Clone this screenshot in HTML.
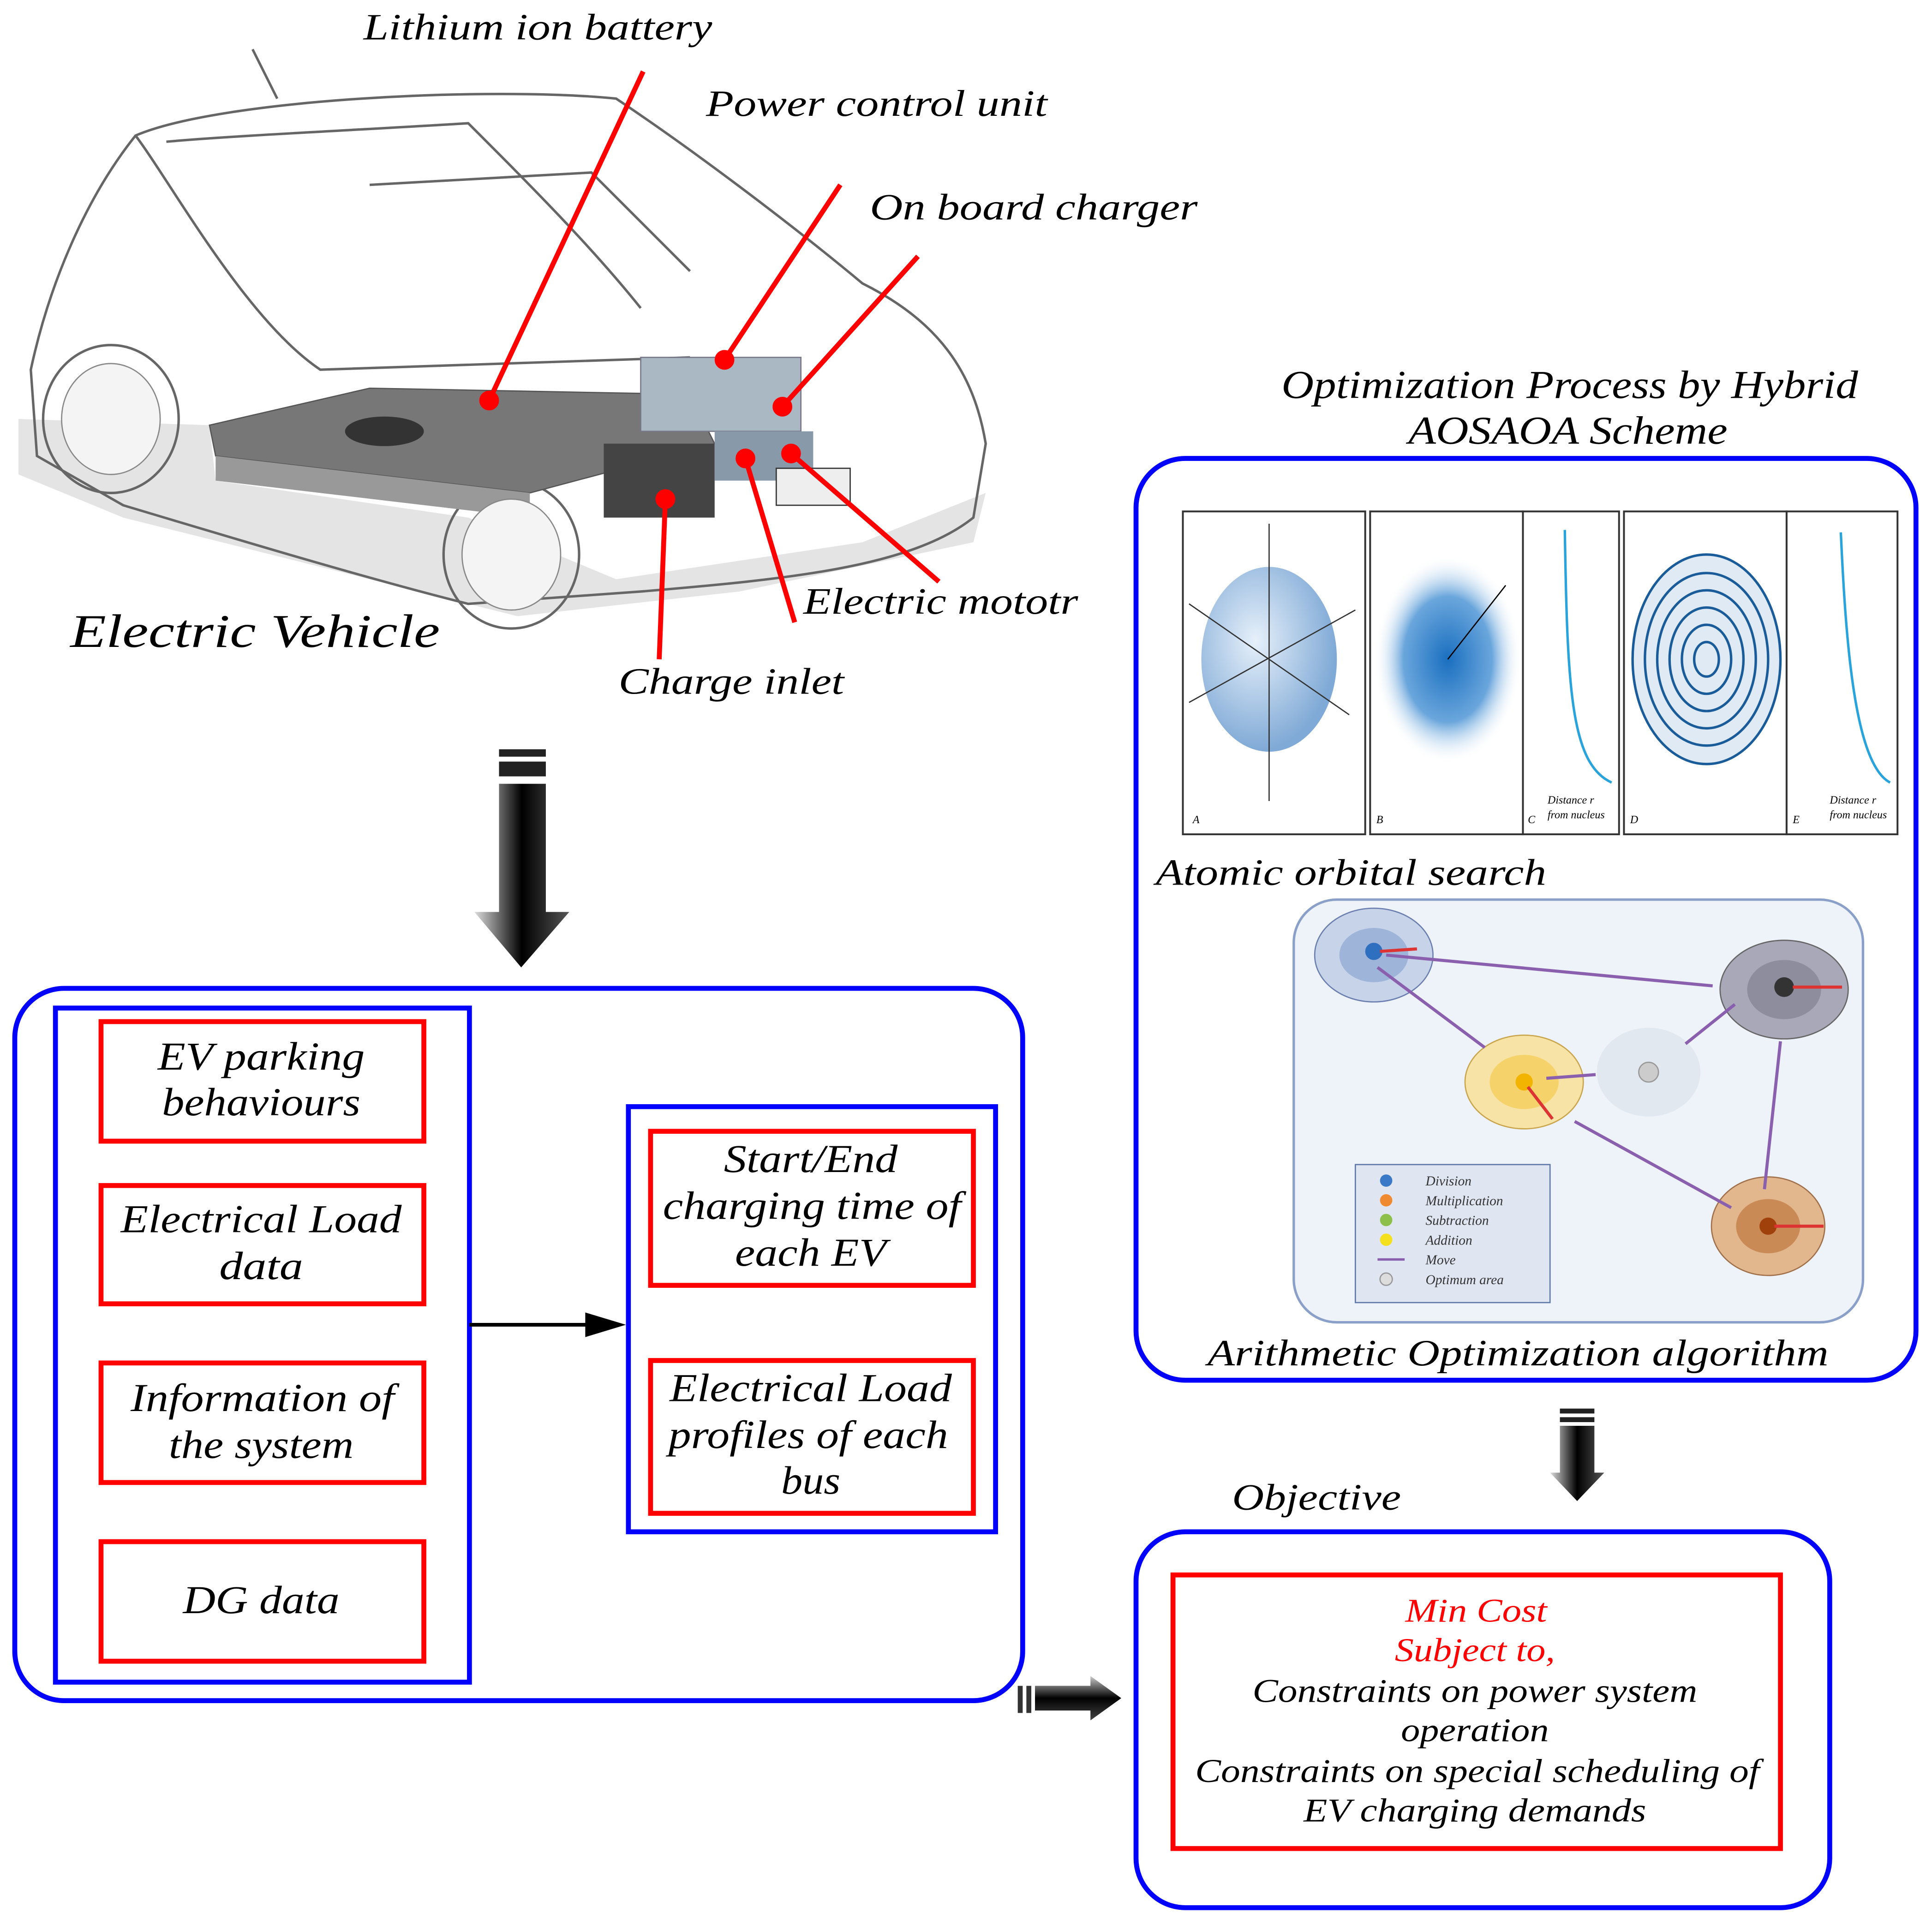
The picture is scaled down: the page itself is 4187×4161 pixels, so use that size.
<!DOCTYPE html>
<html><head><meta charset="utf-8">
<style>
html,body{margin:0;padding:0;background:#fff;}
svg{display:block;}
text{font-family:"Liberation Serif",serif;font-style:italic;}
</style></head>
<body>
<svg width="4187" height="4161" viewBox="0 0 1568 1558" preserveAspectRatio="none" xmlns="http://www.w3.org/2000/svg">
<defs>
<linearGradient id="dg" x1="0" y1="0" x2="1" y2="0">
<stop offset="0" stop-color="#ddd"/><stop offset="0.5" stop-color="#000"/><stop offset="1" stop-color="#555"/>
</linearGradient>
<linearGradient id="rg" x1="0" y1="0" x2="0" y2="1">
<stop offset="0" stop-color="#ccc"/><stop offset="0.5" stop-color="#000"/><stop offset="1" stop-color="#444"/>
</linearGradient>
<radialGradient id="sph" cx="0.4" cy="0.4" r="0.6">
<stop offset="0" stop-color="#e6f0fa"/><stop offset="1" stop-color="#7fa9d6"/>
</radialGradient>
<radialGradient id="cloud" cx="0.5" cy="0.5" r="0.5">
<stop offset="0" stop-color="#1a6fc0"/><stop offset="0.6" stop-color="#6aa6dc"/><stop offset="1" stop-color="#fff" stop-opacity="0"/>
</radialGradient>
</defs>
<rect width="1568" height="1558" fill="#fff"/>

<!-- Car -->
<path d="M15,340 L170,345 L175,390 L380,420 L500,470 L700,440 L800,400 L790,440 L600,480 L420,500 L300,470 L100,420 L15,385 Z" fill="#e4e4e4"/>
<g fill="none" stroke="#666" stroke-width="2">
<path d="M25,300 C40,230 70,160 110,110 C180,80 400,70 500,80 C560,120 640,180 700,230 C760,260 790,300 800,360 L790,420 C740,460 640,470 520,480 L380,490 C300,470 200,440 100,410 L30,370 Z"/>
<path d="M110,110 C140,150 200,260 260,300 L560,290"/>
<path d="M135,115 C190,110 300,105 380,100 C430,150 480,200 520,250"/>
<path d="M300,150 L480,140 L560,220"/>
<ellipse cx="90" cy="340" rx="55" ry="60"/>
<ellipse cx="415" cy="450" rx="55" ry="60"/>
<path d="M205,40 L225,80"/>
</g>
<path d="M170,345 L300,315 L560,320 L580,360 L430,400 L175,370 Z" fill="#777" stroke="#555"/>
<path d="M175,370 L430,400 L430,420 L175,390 Z" fill="#999"/>
<ellipse cx="312" cy="350" rx="32" ry="12" fill="#333"/>
<rect x="520" y="290" width="130" height="60" fill="#aab8c4" stroke="#778"/>
<rect x="490" y="360" width="90" height="60" fill="#444"/>
<rect x="580" y="350" width="80" height="40" fill="#8899aa"/>
<rect x="630" y="380" width="60" height="30" fill="#eee" stroke="#333"/>
<ellipse cx="90" cy="340" rx="40" ry="45" fill="#f4f4f4" stroke="#888"/>
<ellipse cx="415" cy="450" rx="40" ry="45" fill="#f4f4f4" stroke="#888"/>

<!-- red pointers -->
<g stroke="#f00" stroke-width="4" fill="#f00">
<line x1="522" y1="58" x2="397" y2="325"/><circle cx="397" cy="325" r="6"/>
<line x1="682" y1="150" x2="588" y2="292"/><circle cx="588" cy="292" r="6"/>
<line x1="745" y1="208" x2="635" y2="330"/><circle cx="635" cy="330" r="6"/>
<line x1="762" y1="472" x2="642" y2="368"/><circle cx="642" cy="368" r="6"/>
<line x1="645" y1="505" x2="605" y2="372"/><circle cx="605" cy="372" r="6"/>
<line x1="535" y1="535" x2="540" y2="405"/><circle cx="540" cy="405" r="6"/>
</g>

<g font-size="30" fill="#000" lengthAdjust="spacingAndGlyphs">
<text x="295" y="32" textLength="283" lengthAdjust="spacingAndGlyphs">Lithium ion battery</text>
<text x="573" y="94" textLength="277" lengthAdjust="spacingAndGlyphs">Power control unit</text>
<text x="706" y="178" textLength="266" lengthAdjust="spacingAndGlyphs">On board charger</text>
<text x="652" y="498" textLength="223" lengthAdjust="spacingAndGlyphs">Electric mototr</text>
<text x="502" y="563" textLength="183" lengthAdjust="spacingAndGlyphs">Charge inlet</text>
</g>
<text x="57" y="525" font-size="38" textLength="300" lengthAdjust="spacingAndGlyphs">Electric Vehicle</text>

<!-- down arrow left -->
<rect x="405" y="608" width="38" height="6" fill="#222"/>
<rect x="405" y="618" width="38" height="12" fill="#222"/>
<path d="M405,636 L443,636 L443,740 L462,740 L423,785 L385,740 L405,740 Z" fill="url(#dg)"/>

<!-- Left big box -->
<rect x="12" y="802" width="818" height="578" rx="40" fill="none" stroke="#00f" stroke-width="4"/>
<rect x="45" y="818" width="336" height="547" fill="none" stroke="#00f" stroke-width="4"/>
<g fill="none" stroke="#f00" stroke-width="4">
<rect x="82" y="829" width="262" height="97"/>
<rect x="82" y="962" width="262" height="96"/>
<rect x="82" y="1106" width="262" height="97"/>
<rect x="82" y="1251" width="262" height="97"/>
</g>
<rect x="510" y="898" width="298" height="345" fill="none" stroke="#00f" stroke-width="4"/>
<g fill="none" stroke="#f00" stroke-width="4">
<rect x="528" y="918" width="262" height="125"/>
<rect x="528" y="1104" width="262" height="124"/>
</g>
<g font-size="32" text-anchor="middle" fill="#000">
<text x="212" y="868" textLength="168" lengthAdjust="spacingAndGlyphs">EV parking</text><text x="212" y="905" textLength="161" lengthAdjust="spacingAndGlyphs">behaviours</text>
<text x="212" y="1000" textLength="228" lengthAdjust="spacingAndGlyphs">Electrical Load</text><text x="212" y="1038" textLength="68" lengthAdjust="spacingAndGlyphs">data</text>
<text x="213" y="1145" textLength="214" lengthAdjust="spacingAndGlyphs">Information of</text><text x="212" y="1183" textLength="150" lengthAdjust="spacingAndGlyphs">the system</text>
<text x="212" y="1309" textLength="127" lengthAdjust="spacingAndGlyphs">DG data</text>
<text x="658" y="951" textLength="141" lengthAdjust="spacingAndGlyphs">Start/End</text><text x="659" y="989" textLength="242" lengthAdjust="spacingAndGlyphs">charging time of</text><text x="658" y="1027" textLength="123" lengthAdjust="spacingAndGlyphs">each EV</text>
<text x="658" y="1137" textLength="229" lengthAdjust="spacingAndGlyphs">Electrical Load</text><text x="656" y="1175" textLength="227" lengthAdjust="spacingAndGlyphs">profiles of each</text><text x="658" y="1212" textLength="48" lengthAdjust="spacingAndGlyphs">bus</text>
</g>
<line x1="381" y1="1075" x2="480" y2="1075" stroke="#000" stroke-width="3"/>
<path d="M475,1065 L508,1075 L475,1085 Z" fill="#000"/>

<!-- right arrow -->
<rect x="826" y="1368" width="4" height="22" fill="#333"/>
<rect x="833" y="1368" width="4" height="22" fill="#333"/>
<path d="M840,1368 L885,1368 L885,1360 L910,1378 L885,1396 L885,1388 L840,1388 Z" fill="url(#rg)"/>

<!-- Right top box -->
<text x="1040" y="323" font-size="32" textLength="468" lengthAdjust="spacingAndGlyphs">Optimization Process by Hybrid</text>
<text x="1143" y="360" font-size="32" textLength="259" lengthAdjust="spacingAndGlyphs">AOSAOA Scheme</text>
<rect x="922" y="372" width="633" height="748" rx="40" fill="none" stroke="#00f" stroke-width="4"/>

<!-- orbital panels -->
<g stroke="#333" stroke-width="1.5" fill="#fff">
<rect x="960" y="415" width="148" height="262"/>
<rect x="1112" y="415" width="124" height="262"/>
<rect x="1236" y="415" width="78" height="262"/>
<rect x="1318" y="415" width="132" height="262"/>
<rect x="1450" y="415" width="90" height="262"/>
</g>
<ellipse cx="1030" cy="535" rx="55" ry="75" fill="url(#sph)"/>
<g stroke="#333" stroke-width="1"><line x1="1030" y1="425" x2="1030" y2="650"/><line x1="965" y1="490" x2="1095" y2="580"/><line x1="965" y1="570" x2="1100" y2="495"/></g>
<ellipse cx="1175" cy="535" rx="60" ry="85" fill="url(#cloud)"/>
<line x1="1175" y1="535" x2="1222" y2="475" stroke="#000"/>
<g fill="none" stroke="#1a5c99" stroke-width="2">
<ellipse cx="1385" cy="535" rx="60" ry="85" fill="#dfeaf4"/>
<ellipse cx="1385" cy="535" rx="50" ry="70"/><ellipse cx="1385" cy="535" rx="40" ry="56"/>
<ellipse cx="1385" cy="535" rx="30" ry="42"/><ellipse cx="1385" cy="535" rx="20" ry="28"/><ellipse cx="1385" cy="535" rx="10" ry="14"/>
</g>
<g fill="none" stroke="#29a3dc" stroke-width="2">
<path d="M1270,430 C1272,560 1275,620 1308,635"/>
<path d="M1494,432 C1498,520 1505,620 1534,635"/>
</g>
<g font-family="Liberation Sans" font-size="9" font-style="normal" fill="#000">
<text x="968" y="668">A</text><text x="1117" y="668">B</text><text x="1240" y="668">C</text><text x="1323" y="668">D</text><text x="1455" y="668">E</text>
<text x="1256" y="652">Distance r</text><text x="1256" y="664">from nucleus</text>
<text x="1485" y="652">Distance r</text><text x="1485" y="664">from nucleus</text>
</g>
<text x="938" y="718" font-size="30" textLength="317" lengthAdjust="spacingAndGlyphs">Atomic orbital search</text>

<!-- AOA panel -->
<rect x="1050" y="730" width="462" height="343" rx="35" fill="#eef2f9" stroke="#8aa0c8" stroke-width="2"/>
<ellipse cx="1115" cy="775" rx="48" ry="38" fill="#c7d3e8" stroke="#6a7fb0"/><ellipse cx="1115" cy="775" rx="28" ry="22" fill="#9fb4d9"/><circle cx="1115" cy="772" r="7" fill="#2f6fbf"/>
<ellipse cx="1448" cy="803" rx="52" ry="40" fill="#a8a8b8" stroke="#666"/><ellipse cx="1448" cy="803" rx="30" ry="24" fill="#8d8d9e"/><circle cx="1448" cy="801" r="8" fill="#333"/>
<ellipse cx="1237" cy="878" rx="48" ry="38" fill="#f7e3a6" stroke="#c9a64e"/><ellipse cx="1237" cy="878" rx="28" ry="22" fill="#f5d26a"/><circle cx="1237" cy="878" r="7" fill="#f2b400"/>
<ellipse cx="1338" cy="870" rx="42" ry="36" fill="#e2e8f0"/><circle cx="1338" cy="870" r="8" fill="#ccc" stroke="#999"/>
<ellipse cx="1435" cy="995" rx="46" ry="40" fill="#e2b78e" stroke="#a0704a"/><ellipse cx="1435" cy="995" rx="26" ry="22" fill="#c98a55"/><circle cx="1435" cy="995" r="7" fill="#a0400a"/>
<g stroke="#8a5fae" stroke-width="2.5">
<line x1="1125" y1="775" x2="1390" y2="800"/><line x1="1118" y1="785" x2="1205" y2="850"/>
<line x1="1408" y1="815" x2="1368" y2="847"/><line x1="1432" y1="965" x2="1445" y2="845"/>
<line x1="1405" y1="980" x2="1278" y2="910"/><line x1="1255" y1="875" x2="1295" y2="872"/>
</g>
<g stroke="#d33" stroke-width="2.5">
<line x1="1120" y1="772" x2="1150" y2="770"/><line x1="1455" y1="801" x2="1495" y2="801"/>
<line x1="1240" y1="882" x2="1260" y2="908"/><line x1="1440" y1="995" x2="1480" y2="995"/>
</g>
<rect x="1100" y="945" width="158" height="112" fill="#dfe6f2" stroke="#5d77a8"/>
<g font-size="11" font-style="normal" fill="#333">
<circle cx="1125" cy="958" r="5" fill="#3a78c8"/><text x="1157" y="962">Division</text>
<circle cx="1125" cy="974" r="5" fill="#f08a30"/><text x="1157" y="978">Multiplication</text>
<circle cx="1125" cy="990" r="5" fill="#8cc04a"/><text x="1157" y="994">Subtraction</text>
<circle cx="1125" cy="1006" r="5" fill="#f5e020"/><text x="1157" y="1010">Addition</text>
<line x1="1118" y1="1022" x2="1140" y2="1022" stroke="#8a5fae" stroke-width="2"/><text x="1157" y="1026">Move</text>
<circle cx="1125" cy="1038" r="5" fill="#ddd" stroke="#999"/><text x="1157" y="1042">Optimum area</text>
</g>
<text x="980" y="1108" font-size="30" textLength="504" lengthAdjust="spacingAndGlyphs">Arithmetic Optimization algorithm</text>

<!-- down arrow right -->
<rect x="1266" y="1143" width="28" height="4" fill="#222"/>
<rect x="1266" y="1150" width="28" height="4" fill="#222"/>
<path d="M1266,1157 L1294,1157 L1294,1195 L1302,1195 L1280,1218 L1258,1195 L1266,1195 Z" fill="url(#dg)"/>

<text x="1000" y="1225" font-size="30" textLength="137" lengthAdjust="spacingAndGlyphs">Objective</text>
<rect x="922" y="1243" width="563" height="305" rx="40" fill="none" stroke="#00f" stroke-width="4"/>
<rect x="952" y="1278" width="493" height="222" fill="none" stroke="#f00" stroke-width="4"/>
<g font-size="27" text-anchor="middle">
<text x="1198" y="1316" fill="#f00" textLength="115" lengthAdjust="spacingAndGlyphs">Min Cost</text>
<text x="1197" y="1348" fill="#f00" textLength="130" lengthAdjust="spacingAndGlyphs">Subject to,</text>
<text x="1197" y="1381" fill="#000" textLength="361" lengthAdjust="spacingAndGlyphs">Constraints on power system</text>
<text x="1197" y="1413" fill="#000" textLength="120" lengthAdjust="spacingAndGlyphs">operation</text>
<text x="1199" y="1446" fill="#000" textLength="458" lengthAdjust="spacingAndGlyphs">Constraints on special scheduling of</text>
<text x="1197" y="1478" fill="#000" textLength="278" lengthAdjust="spacingAndGlyphs">EV charging demands</text>
</g>
</svg>
</body></html>
